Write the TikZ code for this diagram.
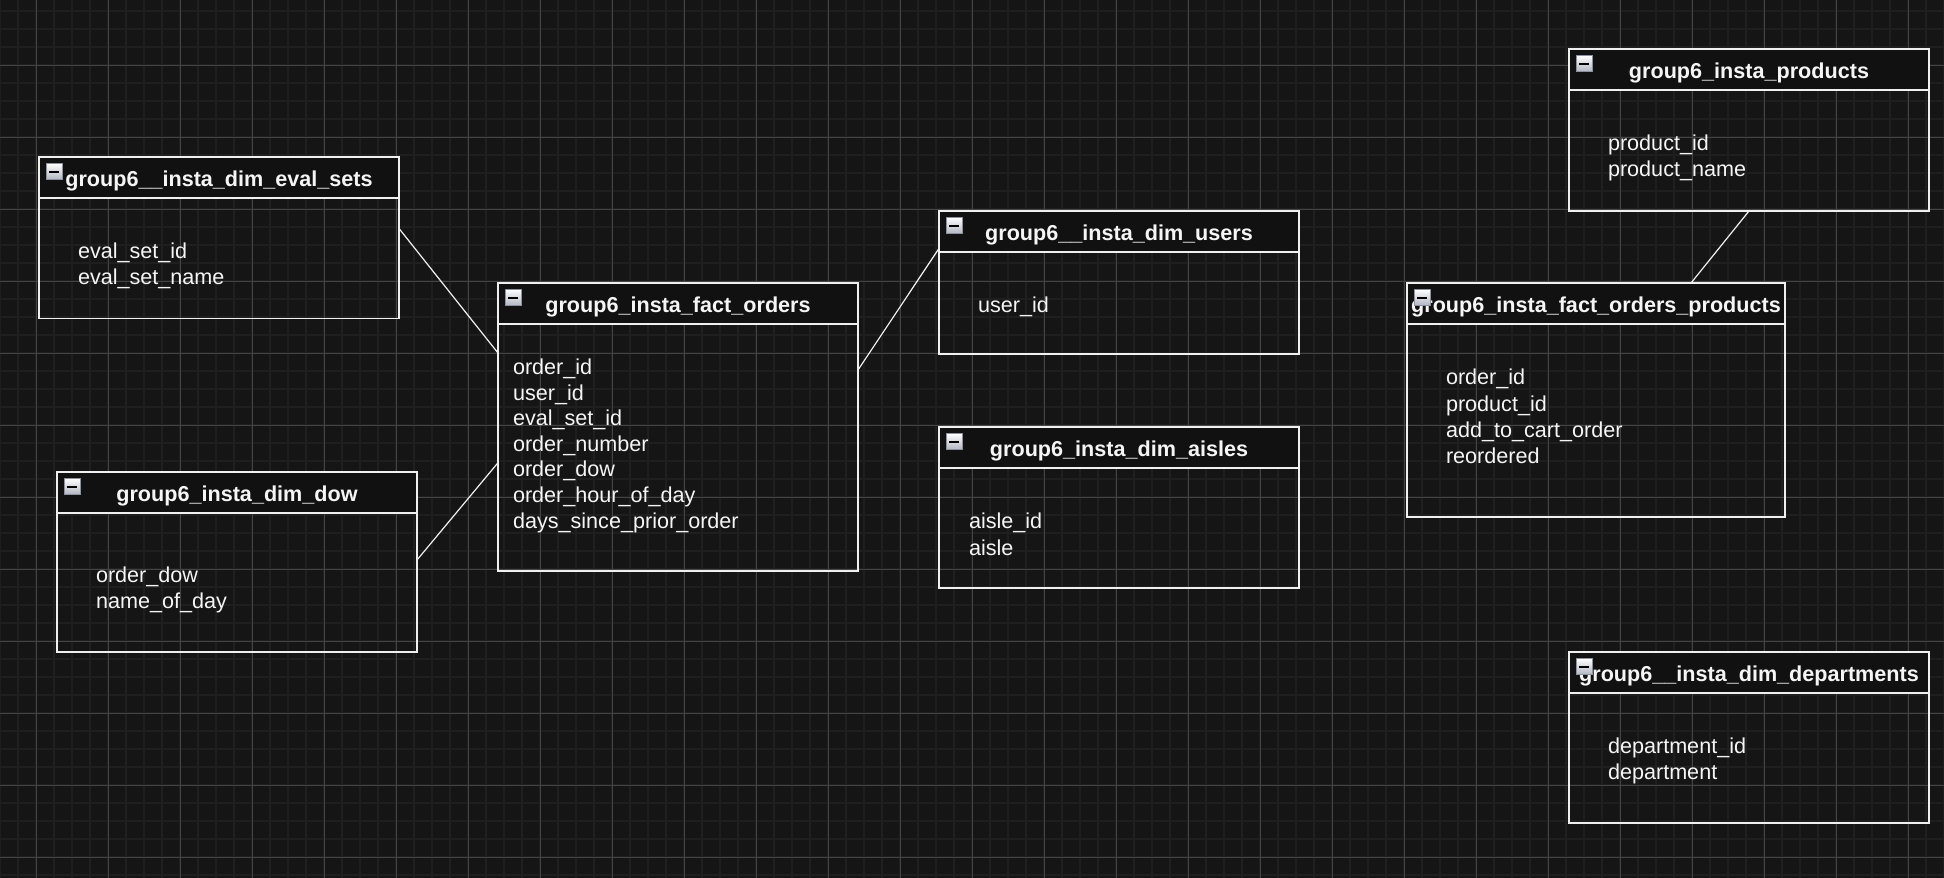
\documentclass[tikz,border=0pt]{standalone}
\usepackage{fontspec}
\setmainfont{Liberation Sans}
\usepackage{xcolor}
\usepackage{tikz}
\usetikzlibrary{positioning}
\definecolor{erBg}{RGB}{21,21,21}
\definecolor{erGridMinor}{RGB}{31,31,31}
\definecolor{erGridMajor}{RGB}{68,68,68}
\definecolor{erHead}{RGB}{17,17,17}
\definecolor{erLine}{RGB}{240,240,240}
\definecolor{erText}{RGB}{245,245,245}
\definecolor{erIconEdge}{RGB}{140,146,162}
\definecolor{erIconLow}{RGB}{178,182,192}

\begin{document}
\begin{tikzpicture}[
  x=0.5pt, y=-0.5pt,
  node distance=0pt,
  gridminor/.style={draw=erGridMinor, line width=0.8pt},
  gridmajor/.style={draw=erGridMajor, line width=0.5pt},
  tblhead/.style={draw=erLine, line width=0.75pt, fill=erHead, outer sep=0pt, inner xsep=1pt, minimum width=180pt, minimum height=20.5pt, text height=9.2pt, text depth=0pt, text=erText, font=\bfseries\fontsize{10.8}{13}\selectfont},
  tblbody/.style={draw=erLine, line width=0.75pt, outer sep=0pt, inner xsep=19.5pt, text width=141pt, align=left, text=erText, font=\fontsize{10.8}{13.15}\selectfont},
  minusbox/.style={draw=erIconEdge, line width=0.5pt, top color=white, bottom color=erIconLow, minimum size=8pt, inner sep=0pt, outer sep=0pt,
    path picture={\draw[black, line width=1pt] ([xshift=-2.5pt]path picture bounding box.center) -- ([xshift=2.5pt]path picture bounding box.center);}},
  link/.style={draw=erLine, line width=0.6pt}
]
\useasboundingbox (0,0) rectangle (1944,878);
\fill[erBg] (0,0) rectangle (1944,878);
\foreach \gx in {0,18,...,1944} \draw[gridminor] (\gx,0) -- (\gx,878);
\foreach \gy in {11,29,...,878} \draw[gridminor] (0,\gy) -- (1944,\gy);
\foreach \gx in {36,108,...,1944} \draw[gridmajor] (\gx,0) -- (\gx,878);
\foreach \gy in {65,137,...,878} \draw[gridmajor] (0,\gy) -- (1944,\gy);

\node[tblhead, anchor=north west] (evalsetshead) at (39,157) {group6\_\_insta\_dim\_eval\_sets};
\node[tblbody, minimum height=60.25pt, text height=0pt, text depth=0pt, below=of evalsetshead] (evalsets) {eval\_set\_id\\eval\_set\_name};

\node[tblhead, anchor=north west] (dowhead) at (57,472) {group6\_insta\_dim\_dow};
\node[tblbody, minimum height=69.5pt, text height=0pt, text depth=0pt, below=of dowhead] (dow) {order\_dow\\name\_of\_day};

\node[tblhead, anchor=north west] (factordershead) at (498,283) {group6\_insta\_fact\_orders};
\node[tblbody, minimum height=123.5pt, inner xsep=7.5pt, text width=165pt, font=\fontsize{10.8}{12.8}\selectfont, text height=0pt, text depth=73.1pt, below=of factordershead] (factorders) {order\_id\\user\_id\\eval\_set\_id\\order\_number\\order\_dow\\order\_hour\_of\_day\\days\_since\_prior\_order};

\node[tblhead, anchor=north west] (usershead) at (939,211) {group6\_\_insta\_dim\_users};
\node[tblbody, minimum height=51pt, text height=9.3pt, text depth=0pt, below=of usershead] (users) {user\_id};

\node[tblhead, below=36.5pt of users] (aisleshead) {group6\_insta\_dim\_aisles};
\node[tblbody, minimum height=60pt, inner xsep=15pt, text width=150pt, text height=0.7pt, text depth=0pt, below=of aisleshead] (aisles) {aisle\_id\\aisle};

\node[tblhead, minimum width=189pt, anchor=north west] (fophead) at (1407,283) {group6\_insta\_fact\_orders\_products};
\node[tblbody, minimum height=96.5pt, text width=150pt, text height=0pt, text depth=35.6pt, below=of fophead] (fop) {order\_id\\product\_id\\add\_to\_cart\_order\\reordered};

\node[tblhead, anchor=north west] (productshead) at (1569,49) {group6\_insta\_products};
\node[tblbody, minimum height=60.5pt, text height=0pt, text depth=0pt, below=of productshead] (products) {product\_id\\product\_name};

\node[tblhead, anchor=north west] (deptshead) at (1569,652) {group6\_\_insta\_dim\_departments};
\node[tblbody, minimum height=65pt, text height=0pt, text depth=4.6pt, below=of deptshead] (depts) {department\_id\\department};

\node[minusbox, below right=3.25pt and 3.5pt of evalsetshead.north west] (evalsetsicon) {};
\node[minusbox, below right=3.25pt and 3.5pt of dowhead.north west] (dowicon) {};
\node[minusbox, below right=3.25pt and 3.5pt of factordershead.north west] (factordersicon) {};
\node[minusbox, below right=3.25pt and 3.5pt of usershead.north west] (usersicon) {};
\node[minusbox, below right=3.25pt and 3.5pt of aisleshead.north west] (aislesicon) {};
\node[minusbox, below right=3.25pt and 3.5pt of fophead.north west] (fopicon) {};
\node[minusbox, below right=3.25pt and 3.5pt of productshead.north west] (productsicon) {};
\node[minusbox, below right=3.25pt and 3.5pt of deptshead.north west] (deptsicon) {};

\draw[link] ([yshift=14.9pt]evalsets.east) -- ([yshift=47.25pt]factorders.west);
\draw[link] ([yshift=11.25pt]dow.east) -- ([yshift=-7.6pt]factorders.west);
\draw[link] ([yshift=38.75pt]factorders.east) -- ([yshift=1.8pt]usershead.south west);
\draw[link] (products.south) -- ([xshift=47.5pt]fophead.north);
\end{tikzpicture}
\end{document}
